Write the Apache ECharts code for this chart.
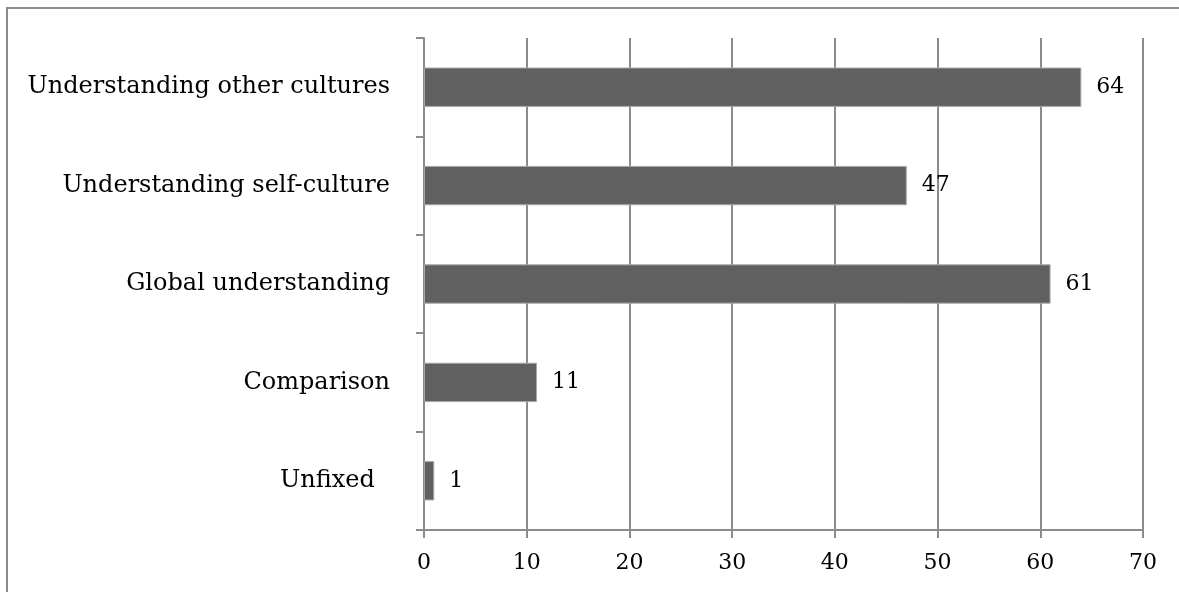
<!DOCTYPE html>
<html>
<head>
<meta charset="utf-8">
<script src="https://cdn.jsdelivr.net/npm/echarts@6/dist/echarts.min.js"></script>
<style>
  html, body { margin: 0; padding: 0; background: #fff; }
  #chart { width: 1179px; height: 592px; }
</style>
</head>
<body>
<div id="chart"></div>
<script>
// Survey themes and response counts
const categories = [
  'Understanding other cultures',
  'Understanding self-culture',
  'Global understanding',
  'Comparison',
  'Unfixed\u00a0\u00a0'
];
const counts = [64, 47, 61, 11, 1];
const xTicks = [0, 10, 20, 30, 40, 50, 60, 70];

const FONT = 'DejaVu Serif';
const LINE = '#8c8c8c';

const chart = echarts.init(document.getElementById('chart'));
chart.setOption({
  animation: false,
  backgroundColor: '#ffffff',
  textStyle: { fontFamily: FONT },
  graphic: [{
    type: 'rect',
    shape: { x: 7, y: 8, width: 1400, height: 800 },
    style: { fill: 'none', stroke: LINE, lineWidth: 2 },
    silent: true
  }],
  grid: { left: 424, right: 36, top: 38, bottom: 62 },
  xAxis: {
    type: 'value',
    min: xTicks[0],
    max: xTicks[xTicks.length - 1],
    interval: 10,
    axisLine: { show: true, lineStyle: { color: LINE, width: 2 } },
    axisTick: { show: true, length: 8, lineStyle: { color: LINE, width: 2 } },
    axisLabel: { color: '#000', fontSize: 22, fontFamily: FONT, margin: 22 },
    splitLine: { show: true, lineStyle: { color: LINE, width: 2 } }
  },
  yAxis: {
    type: 'category',
    data: categories,
    inverse: true,
    axisLine: { show: true, lineStyle: { color: LINE, width: 2 } },
    axisTick: { show: true, length: 8, lineStyle: { color: LINE, width: 2 } },
    axisLabel: { color: '#000', fontSize: 24, fontFamily: FONT, margin: 34 },
    splitLine: { show: false }
  },
  series: [{
    type: 'bar',
    data: counts,
    barWidth: '40%',
    itemStyle: { color: '#606060', borderColor: '#a8a8a8', borderWidth: 1 },
    label: {
      show: true,
      position: 'right',
      distance: 15,
      color: '#000',
      fontSize: 22,
      fontFamily: FONT
    }
  }]
});
</script>
</body>
</html>
